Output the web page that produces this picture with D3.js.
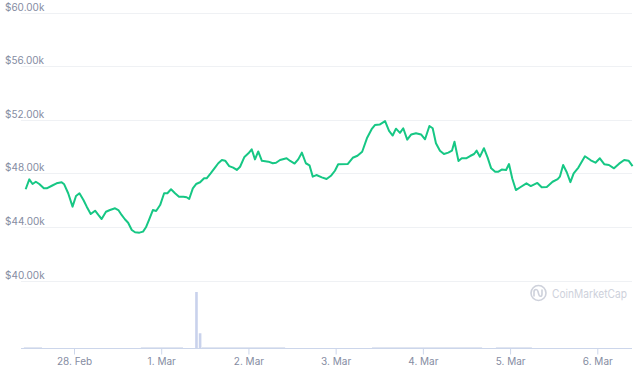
<!DOCTYPE html>
<html>
<head>
<meta charset="utf-8">
<script src="https://cdn.jsdelivr.net/npm/d3@7"></script>
<style>
  html, body { margin: 0; padding: 0; background: #fff; }
  svg { display: block; font-family: Inter, "Noto Sans", sans-serif; }
</style>
</head>
<body>
<svg id="chart" width="640" height="375"></svg>
<script>
// hours after 27 Feb 2021 00:00 UTC, price in thousands of USD
const priceHours = [10.7,11.7,12.6,13.5,14.45,15.7,16.5,17.9,19.2,20.6,21.3,22.4,23.6,24.55,25.5,26.6,27.5,28.6,29.8,30.7,31.6,32.8,33.9,35.3,36.2,37.1,38.0,38.9,39.9,40.8,42.0,43.0,43.8,44.7,45.7,46.6,47.7,48.8,49.7,50.7,51.8,52.9,54.1,55.0,55.7,56.7,57.6,58.7,59.8,60.5,61.6,62.8,63.7,64.7,65.6,66.7,67.8,68.8,69.7,70.9,72.0,72.9,73.8,74.7,75.7,77.5,78.7,79.6,80.7,82.5,83.5,84.7,85.7,86.7,87.8,88.8,89.7,90.7,92.2,93.5,94.8,95.8,96.7,99.3,100.7,102.0,103.3,104.6,105.9,106.8,108.1,109.6,110.7,111.7,112.6,113.7,114.6,115.7,116.8,118.1,119.5,120.6,121.8,122.7,123.6,124.7,125.8,127.0,128.0,128.7,129.8,130.7,131.9,133.0,134.1,134.8,135.7,136.8,137.8,138.8,139.9,140.8,141.7,142.9,143.7,144.6,145.6,146.8,148.5,149.7,151.5,152.7,154.1,155.7,157.1,157.7,158.6,159.6,160.6,161.5,162.8,164.6,166.2,167.5,168.7,169.9,171.2,172.6,174.0,175.4,176.6,177.7];
const priceValues = [46.81,47.55,47.20,47.37,47.20,46.88,46.88,47.07,47.25,47.33,47.18,46.51,45.51,46.31,46.51,46.01,45.51,44.96,45.21,44.89,44.59,45.13,45.26,45.39,45.26,44.89,44.57,44.31,43.77,43.60,43.57,43.65,43.97,44.57,45.26,45.19,45.63,46.51,46.51,46.81,46.51,46.25,46.25,46.21,46.08,46.88,47.20,47.33,47.63,47.63,48.00,48.43,48.75,48.99,48.94,48.54,48.42,48.25,48.49,49.22,49.49,49.79,49.04,49.63,48.93,48.87,48.75,48.79,48.99,49.12,48.92,48.73,49.04,49.54,48.75,48.60,47.75,47.87,47.70,47.57,47.84,48.19,48.68,48.69,49.16,49.31,49.61,50.61,51.29,51.60,51.64,51.89,51.16,50.82,51.33,51.02,51.36,50.51,50.90,50.99,50.90,50.54,51.53,51.36,50.24,49.69,49.44,49.54,49.69,50.36,48.92,49.12,49.12,49.29,49.44,49.69,49.24,49.87,49.19,48.37,48.12,48.12,48.28,48.25,48.69,47.61,46.75,46.96,47.25,47.05,47.28,46.96,46.98,47.37,47.57,47.75,48.62,48.08,47.34,48.00,48.43,49.27,48.97,48.79,49.12,48.68,48.62,48.37,48.72,48.99,48.94,48.54];

// volume spikes (hours, relative volume) and runs of very low volume [from, to]
const volumeHours = [57.7, 58.7];
const volumeValues = [38, 10];
const lowVolumeRuns = [[10.2, 15.2], [42.4, 54.0], [59.2, 82.1], [106.0, 136.3], [140.1, 150.0]];
const lowVolume = 0.6;

const priceTicks = [40, 44, 48, 52, 56, 60];
const dayTicks = ['2021-02-28', '2021-03-01', '2021-03-02', '2021-03-03', '2021-03-04', '2021-03-05', '2021-03-06'];

const base = Date.UTC(2021, 1, 27);
const toDate = h => new Date(base + h * 3600e3);

const svg = d3.select('#chart');
const left = 21, right = 632, axisY = 348;

const x = d3.scaleUtc()
    .domain([new Date('2021-02-28T00:00Z'), new Date('2021-03-06T00:00Z')])
    .range([74, 597.3]);
const y = d3.scaleLinear().domain([40, 60]).range([280.5, 12.5]);
const yVol = d3.scaleLinear().domain([0, 38]).range([axisY, 292]);

// gridlines + price labels
const grid = svg.append('g');
grid.selectAll('line')
    .data(priceTicks)
    .join('line')
    .attr('x1', left).attr('x2', right)
    .attr('y1', d => Math.round(y(d)) + 0.5)
    .attr('y2', d => Math.round(y(d)) + 0.5)
    .attr('stroke', '#eff1f4');
grid.selectAll('text')
    .data(priceTicks)
    .join('text')
    .attr('x', 5)
    .attr('y', d => Math.round(y(d)) - 2)
    .attr('font-size', 10)
    .attr('fill', '#858ca2')
    .text(d => '$' + d.toFixed(2) + 'k');

// watermark
const wm = svg.append('g').attr('transform', 'translate(538.5,293)').attr('opacity', 0.9);
wm.append('circle').attr('r', 7.5).attr('fill', 'none').attr('stroke', '#c9cdd8').attr('stroke-width', 1.6);
wm.append('path')
    .attr('d', 'M-4.5,3 L-4.5,-1 Q-4.5,-3.5 -2.5,-3.5 Q-1,-3.5 -0.5,-1.5 L0.3,1.5 Q0.8,3.3 2,3.3 Q3.5,3.3 3.5,1 L3.5,-3')
    .attr('fill', 'none').attr('stroke', '#c9cdd8').attr('stroke-width', 1.6).attr('stroke-linecap', 'round');
wm.append('text')
    .attr('x', 13.5).attr('y', 4.5)
    .attr('font-size', 11.5)
    .attr('textLength', 75)
    .attr('lengthAdjust', 'spacingAndGlyphs')
    .attr('fill', '#c9cdd8')
    .text('CoinMarketCap');

// volume
const vol = svg.append('g');
vol.selectAll('rect.low')
    .data(lowVolumeRuns)
    .join('rect')
    .attr('class', 'low')
    .attr('x', d => x(toDate(d[0])))
    .attr('width', d => x(toDate(d[1])) - x(toDate(d[0])))
    .attr('y', yVol(lowVolume))
    .attr('height', axisY - yVol(lowVolume))
    .attr('fill', '#dde3f0');
vol.selectAll('rect.spike')
    .data(d3.zip(volumeHours, volumeValues))
    .join('rect')
    .attr('class', 'spike')
    .attr('x', d => x(toDate(d[0])) - 1.3)
    .attr('width', 2.6)
    .attr('y', d => yVol(d[1]))
    .attr('height', d => axisY - yVol(d[1]))
    .attr('fill', '#c9d2ec');

// x axis
const xAxis = svg.append('g')
    .attr('transform', `translate(0,${axisY + 0.5})`)
    .call(d3.axisBottom(x)
        .tickValues(dayTicks.map(d => new Date(d + 'T00:00Z')))
        .tickFormat(d3.utcFormat('%-d. %b'))
        .tickSize(6)
        .tickPadding(3));
xAxis.select('.domain').remove();
xAxis.insert('line', ':first-child').attr('x1', left).attr('x2', right).attr('stroke', '#ccd6eb');
xAxis.selectAll('.tick line').attr('stroke', '#ccd6eb');
xAxis.selectAll('.tick text')
    .attr('font-size', 10)
    .attr('font-family', 'Inter, "Noto Sans", sans-serif')
    .attr('fill', '#858ca2');

// price line
const line = d3.line()
    .x(d => x(toDate(d[0])))
    .y(d => y(d[1]));
svg.append('path')
    .datum(d3.zip(priceHours, priceValues))
    .attr('d', line)
    .attr('fill', 'none')
    .attr('stroke', '#16c784')
    .attr('stroke-width', 2)
    .attr('stroke-linejoin', 'round');
</script>
</body>
</html>
